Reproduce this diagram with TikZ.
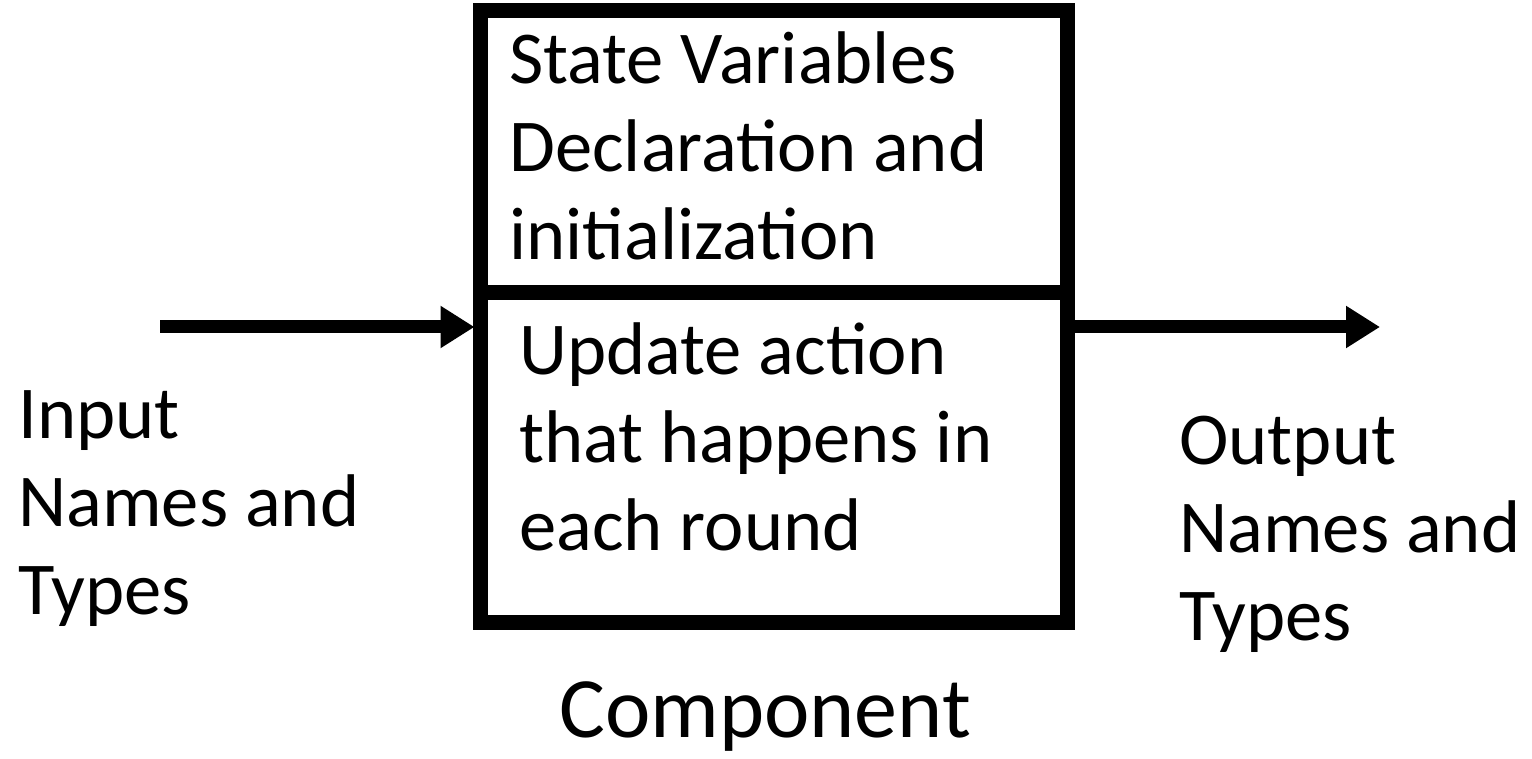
\documentclass[tikz,border=0pt]{standalone}
\usepackage{fontspec}
\setmainfont{Carlito}
\usetikzlibrary{positioning,arrows.meta}

\begin{document}
\begin{tikzpicture}[x=0.5pt, y=-0.5pt,
    block/.style={rectangle, draw, line width=7.5pt, outer sep=0pt, minimum width=293.5pt},
    txt/.style={align=left, inner sep=0pt, anchor=base west, font=\fontsize{37.3}{44}\selectfont},
    arrow/.style={-{Triangle[length=17pt, width=20pt]}, line width=6.5pt}]

    \useasboundingbox (0,0) rectangle (1532,759);

    \node[block, minimum height=141.25pt] (state) at (774,151.75) {};
    \node[block, minimum height=164.75pt, below=0pt of state] (update) {};

    % base anchor sits on the last line
    \node[txt] (statetxt) at (509,260) {State Variables\\Declaration and\\initialization};
    \node[txt] (updatetxt) at (519,550) {Update action\\that happens in\\each round};
    \node[txt] (inputtxt) at (18,614) {Input\\Names and\\Types};
    \node[txt] (outputtxt) at (1179,640) {Output\\Names and\\Types};
    \node[txt, font=\fontsize{43}{50}\selectfont] (comp) at (559,737) {Component};

    \coordinate (in) at (160,327);
    \coordinate (out) at (1380,327);

    \draw[arrow, shorten >=3pt] (in) -- (in -| update.west);
    \draw[arrow] (out -| update.east) -- (out);

\end{tikzpicture}
\end{document}
